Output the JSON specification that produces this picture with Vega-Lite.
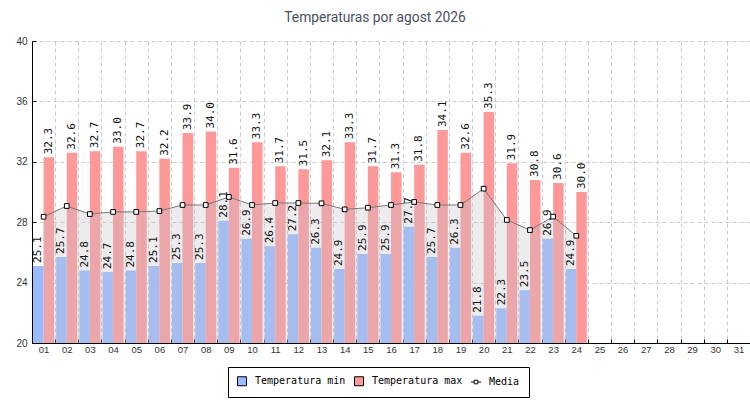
{
  "$schema": "https://vega.github.io/schema/vega-lite/v6.json",
  "autosize": {"type": "none"},
  "width": 718,
  "height": 302,
  "padding": {"left": 32, "top": 41, "right": 0, "bottom": 57},
  "background": "white",
  "config": {"view": {"stroke": null}},
  "title": {
    "text": "Temperaturas por agost 2026",
    "font": "Roboto",
    "fontSize": 13.8,
    "fontWeight": "normal",
    "color": "#4a5162",
    "anchor": "middle",
    "dx": -16,
    "offset": 11
  },
  "data": {
    "values": [
      {"day": "01", "min": 25.1, "max": 32.3, "media": 28.36},
      {"day": "02", "min": 25.7, "max": 32.6, "media": 29.07},
      {"day": "03", "min": 24.8, "max": 32.7, "media": 28.54},
      {"day": "04", "min": 24.7, "max": 33.0, "media": 28.68},
      {"day": "05", "min": 24.8, "max": 32.7, "media": 28.68},
      {"day": "06", "min": 25.1, "max": 32.2, "media": 28.74},
      {"day": "07", "min": 25.3, "max": 33.9, "media": 29.14},
      {"day": "08", "min": 25.3, "max": 34.0, "media": 29.14},
      {"day": "09", "min": 28.1, "max": 31.6, "media": 29.67},
      {"day": "10", "min": 26.9, "max": 33.3, "media": 29.14},
      {"day": "11", "min": 26.4, "max": 31.7, "media": 29.27},
      {"day": "12", "min": 27.2, "max": 31.5, "media": 29.27},
      {"day": "13", "min": 26.3, "max": 32.1, "media": 29.25},
      {"day": "14", "min": 24.9, "max": 33.3, "media": 28.85},
      {"day": "15", "min": 25.9, "max": 31.7, "media": 28.96},
      {"day": "16", "min": 25.9, "max": 31.3, "media": 29.14},
      {"day": "17", "min": 27.7, "max": 31.8, "media": 29.34},
      {"day": "18", "min": 25.7, "max": 34.1, "media": 29.14},
      {"day": "19", "min": 26.3, "max": 32.6, "media": 29.14},
      {"day": "20", "min": 21.8, "max": 35.3, "media": 30.22},
      {"day": "21", "min": 22.3, "max": 31.9, "media": 28.15},
      {"day": "22", "min": 23.5, "max": 30.8, "media": 27.48},
      {"day": "23", "min": 26.9, "max": 30.6, "media": 28.37},
      {"day": "24", "min": 24.9, "max": 30.0, "media": 27.1}
    ]
  },
  "encoding": {
    "x": {
      "field": "day",
      "type": "nominal",
      "title": null,
      "scale": {
        "type": "band",
        "domain": ["01","02","03","04","05","06","07","08","09","10","11","12","13","14","15","16","17","18","19","20","21","22","23","24","25","26","27","28","29","30","31"],
        "paddingInner": 0,
        "paddingOuter": 0
      },
      "axis": {
        "tickBand": "extent",
        "labelAngle": 0,
        "labelFont": "Liberation Sans",
        "labelFontSize": 9.5,
        "labelColor": "#333",
        "labelPadding": 5,
        "domainColor": "black",
        "tickColor": "black",
        "tickSize": -4,
        "grid": true,
        "gridColor": "#cccccc",
        "gridDash": [4, 3]
      }
    }
  },
  "layer": [
    {
      "transform": [{"fold": ["min", "max"], "as": ["serie", "valor"]}],
      "mark": {"type": "bar", "clip": true},
      "encoding": {
        "xOffset": {"field": "serie", "type": "nominal", "scale": {"domain": ["min", "max"], "paddingOuter": 0.1, "paddingInner": 0}},
        "y": {
          "field": "valor",
          "type": "quantitative",
          "title": null,
          "scale": {"domain": [20, 40], "zero": false, "nice": false},
          "axis": {
            "values": [20,21,22,23,24,25,26,27,28,29,30,31,32,33,34,35,36,37,38,39,40],
            "labelExpr": "datum.value % 4 === 0 ? datum.label : ''",
            "labelFont": "Liberation Sans",
            "labelFontSize": 10,
            "labelColor": "#333",
            "labelPadding": 9,
            "domainColor": "black",
            "tickColor": "black",
            "tickSize": -4,
            "grid": true,
            "gridColor": "#cccccc",
            "gridDash": [4, 3],
            "gridOpacity": {"condition": {"test": "datum.value % 4 === 0", "value": 1}, "value": 0}
          }
        },
        "y2": {"datum": 20},
        "color": {
          "field": "serie",
          "type": "nominal",
          "scale": {"domain": ["min", "max", "media"], "range": ["#99bbff", "#ff9999", "#ffffff"]},
          "legend": {
            "orient": "none",
            "legendX": 196,
            "legendY": 326,
            "direction": "horizontal",
            "title": null,
            "labelExpr": "datum.value === 'min' ? 'Temperatura min' : datum.value === 'max' ? 'Temperatura max' : 'Media'",
            "labelFont": "DejaVu Sans Mono",
            "labelFontSize": 10,
            "labelColor": "black",
            "labelOffset": 8,
            "columnPadding": 6,
            "symbolType": "square",
            "symbolSize": 81,
            "symbolStrokeColor": "black",
            "symbolStrokeWidth": 1,
            "symbolOpacity": 1,
            "strokeColor": "black",
            "fillColor": "white",
            "padding": 9,
            "encode": {
              "symbols": {
                "update": {
                  "shape": {"signal": "datum.value === 'media' ? 'M-1.1,0H-0.4M0.4,0H1.1M-0.4,-0.4H0.4V0.4H-0.4Z' : 'square'"},
                  "stroke": {"value": "black"},
                  "strokeWidth": {"value": 1}
                }
              }
            }
          }
        }
      }
    },
    {
      "mark": {"type": "area", "color": "#c4c4cc", "opacity": 0.32},
      "encoding": {
        "y": {"field": "media", "type": "quantitative"},
        "y2": {"datum": 20}
      }
    },
    {
      "mark": {"type": "line", "color": "#777777", "strokeWidth": 1},
      "encoding": {
        "y": {"field": "media", "type": "quantitative"}
      }
    },
    {
      "mark": {"type": "square", "size": 22, "filled": true, "fill": "white", "stroke": "black", "strokeWidth": 1, "opacity": 1},
      "encoding": {
        "y": {"field": "media", "type": "quantitative"}
      }
    },
    {
      "transform": [{"fold": ["min", "max"], "as": ["serie", "valor"]}],
      "mark": {"type": "text", "angle": 270, "align": "left", "baseline": "middle", "dx": 3, "font": "DejaVu Sans Mono", "fontSize": 11, "color": "#111"},
      "encoding": {
        "xOffset": {"field": "serie", "type": "nominal", "scale": {"domain": ["min", "max"], "paddingOuter": 0.1, "paddingInner": 0}},
        "y": {"field": "valor", "type": "quantitative"},
        "text": {"field": "valor", "type": "quantitative", "format": ".1f"}
      }
    }
  ]
}
